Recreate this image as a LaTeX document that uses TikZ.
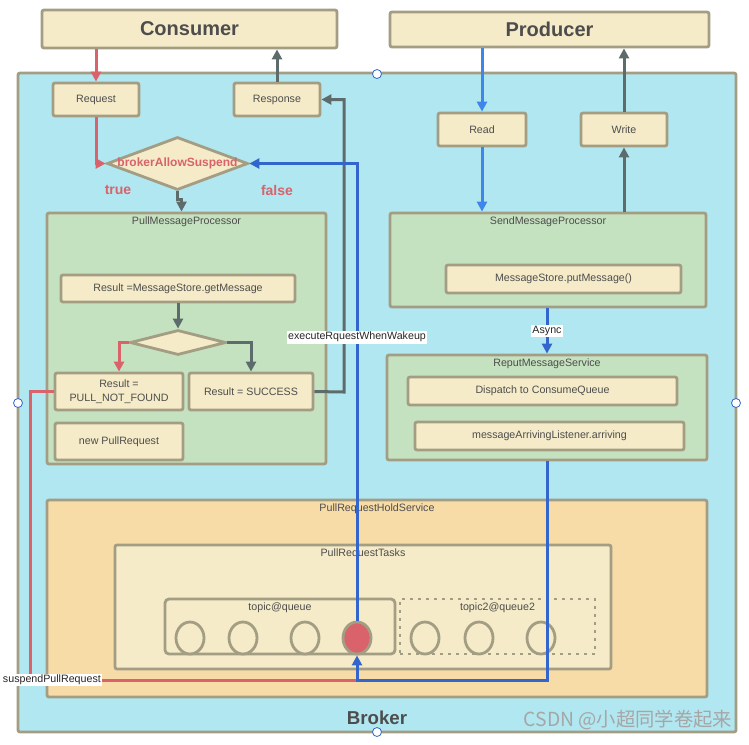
\documentclass[tikz,border=0pt]{standalone}
\usepackage{fontspec}
\setmainfont{Liberation Sans}
\newfontfamily\cjkfont{Noto Sans CJK SC}
\usetikzlibrary{fit,shapes.geometric,arrows.meta}
\definecolor{cream}{HTML}{F5EBC8}
\definecolor{edge}{HTML}{A39D83}
\definecolor{sky}{HTML}{B1E7F0}
\definecolor{leaf}{HTML}{C5E2C0}
\definecolor{sand}{HTML}{F8DCA8}
\definecolor{ink}{HTML}{4D4D4D}
\definecolor{rose}{HTML}{D9626B}
\definecolor{navy}{HTML}{3366CC}
\definecolor{azure}{HTML}{3F86EA}
\definecolor{slate}{HTML}{5E6B6B}
\begin{document}
\begin{tikzpicture}[x=0.75pt,y=-0.75pt,
  txt/.style={text=ink,align=center,inner sep=0pt,font=\fontsize{8}{9.5}\selectfont},
  box/.style={draw=edge,fill=cream,line width=2.1pt,rounded corners=1.5pt,inner sep=0pt},
  cap/.style={label={[txt]center:#1}},
  head/.style={box,label={[txt,font=\bfseries\fontsize{15}{18}\selectfont]center:#1}},
  grp/.style={box,fill=#1,label={[txt,anchor=north,inner sep=3.5pt]north:\grptitle}},
  choice/.style={diamond,draw=edge,fill=cream,line width=2.1pt,inner sep=0pt},
  slot/.style={ellipse,draw=edge,fill=cream,line width=2.1pt,minimum width=21pt,minimum height=24pt,inner sep=0pt},
  handle/.style={circle,draw=navy,fill=white,line width=0.6pt,minimum size=6.75pt,inner sep=0pt},
  tag/.style={fill=white,inner sep=1pt,text=black!85,font=\fontsize{8}{9.5}\selectfont},
  flow/.style={line width=2.25pt,-{Triangle[width=7.5pt,length=7.5pt]}},
  cond/.style={text=rose,font=\bfseries\fontsize{10.5}{12}\selectfont}]
  \useasboundingbox (0,0) rectangle (749,744);
  \node[box,fill=sky,fit={(18,73) (736,732)}] (broker) {};
  \node[text=ink,font=\bfseries\fontsize{14}{16}\selectfont] (brokerlbl) at (377,718) {Broker};
  \node[head=Consumer,fit={(42,10) (337,48)}] (consumer) {};
  \node[head=Producer,fit={(390,12) (709,47)}] (producer) {};
  \node[box,cap=Request,fit={(53,83) (139,116)}] (req) {};
  \node[box,cap=Response,fit={(234,83) (320,116)}] (resp) {};
  \node[box,cap=Read,fit={(438,113) (526,146)}] (read) {};
  \node[box,cap=Write,fit={(581,113) (667,146)}] (write) {};
  \node[choice,minimum width=105.75pt,minimum height=39.75pt] (d1) at (177.5,163.5) {};
  \node[text=rose,font=\bfseries\fontsize{9}{11}\selectfont] at (d1) {brokerAllowSuspend};
  \node[cond] (yes) at (118,190) {true};
  \node[cond] (no) at (277,190) {false};
  \def\grptitle{PullMessageProcessor}
  \node[grp=leaf,fit={(47,213) (326,464)}] (pmp) {};
  \node[box,cap={Result =MessageStore.getMessage},fit={(61,275) (295,302)}] (gm) {};
  \node[choice,minimum width=72pt,minimum height=18.75pt] (d2) at (178,342.5) {};
  \node[box,cap={{Result =\\[1pt]PULL\_NOT\_FOUND}},fit={(55,373) (183,410)}] (nf) {};
  \node[box,cap={Result = SUCCESS},fit={(189,373) (313,410)}] (succ) {};
  \node[box,cap={new PullRequest},fit={(55,423) (183,460)}] (npr) {};
  \def\grptitle{SendMessageProcessor}
  \node[grp=leaf,fit={(390,213) (706,307)}] (smp) {};
  \node[box,cap={MessageStore.putMessage()},fit={(446,265) (681,293)}] (put) {};
  \def\grptitle{ReputMessageService}
  \node[grp=leaf,fit={(387,355) (707,460)}] (rms) {};
  \node[box,cap={Dispatch to ConsumeQueue},fit={(408,377) (677,405)}] (disp) {};
  \node[box,cap={messageArrivingListener.arriving},fit={(415,422) (684,450)}] (arr) {};
  \def\grptitle{PullRequestHoldService}
  \node[grp=sand,fit={(47,500) (707,697)}] (hold) {};
  \def\grptitle{PullRequestTasks}
  \node[grp=cream,fit={(115,545) (611,669)}] (tasks) {};
  \def\grptitle{topic@queue}
  \node[grp=cream,rounded corners=3pt,fit={(165,599) (395,654)}] (tq1) {};
  \def\grptitle{topic2@queue2}
  \node[grp=cream,dash pattern=on 2.25pt off 3.75pt,rounded corners=0pt,fit={(400,599) (595,654)}] (tq2) {};
  \foreach \x/\n in {190/c1,243/c2,305/c3,425/c5,479/c6,541/c7}
    \node[slot] (\n) at (\x,638) {};
  \node[slot,fill=rose] (c4) at (357,638) {};
  \coordinate (join) at (357,680);
  \draw[flow,rose] (consumer.south -| req.north) -- (req.north);
  \draw[flow,rose] (req.south) |- (d1.west);
  \draw[flow,slate] (resp.north) -- (resp.north |- consumer.south);
  \draw[flow,slate] (d1.south) -- ++(0,8) -| ([xshift=-3.75pt]pmp.north);
  \draw[flow,slate] (gm.south) -- (d2.north);
  \draw[flow,rose] (d2.west) -| (nf.north);
  \draw[flow,slate] (d2.east) -| (succ.north);
  \draw[flow,slate] (succ.east) -- (344,392) |- (resp.east);
  \draw[flow,azure] (read.north |- producer.south) -- (read.north);
  \draw[flow,azure] (read.south) -- (read.south |- smp.north);
  \draw[flow,slate] (write.south |- smp.north) -- (write.south);
  \draw[flow,slate] (write.north) -- (write.north |- producer.south);
  \draw[flow,navy] (rms.north |- smp.south) -- (rms.north) node[tag,midway] {Async};
  \draw[line width=2.25pt,rose] (nf.west) -| (30,680) -- (join)
    node[tag,pos=0.067] {suspendPullRequest};
  \draw[flow,navy] (rms.south) |- (join) -- (c4.south);
  \draw[flow,navy] (c4.north) |- (d1.east) node[tag,pos=0.31] {executeRquestWhenWakeup};
  \foreach \p/\n in {{377,74}/h1,{18,403}/h2,{736,403}/h3,{377,732}/h4}
    \node[handle] (\n) at (\p) {};
  \node[text=black!35,font=\cjkfont\fontsize{14.5}{17}\selectfont] (mark) at (628,720) {CSDN @小超同学卷起来};
\end{tikzpicture}
\end{document}
